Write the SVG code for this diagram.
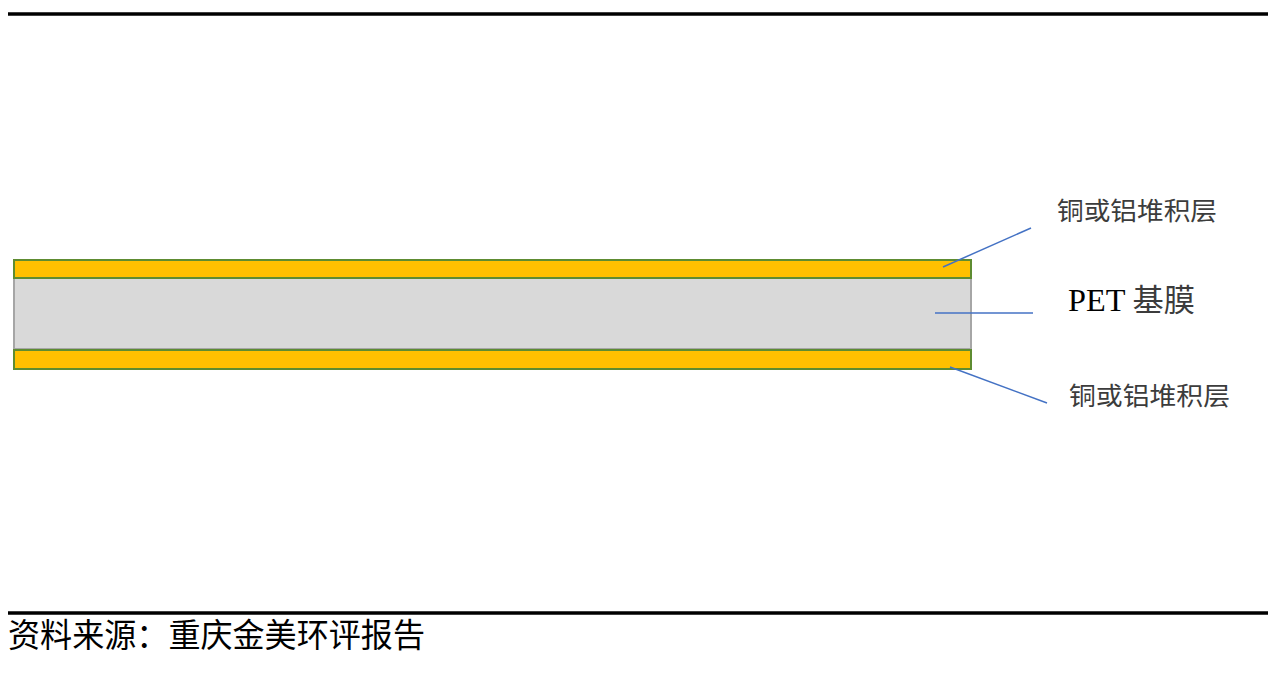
<svg xmlns="http://www.w3.org/2000/svg" width="1284" height="676" viewBox="0 0 1284 676">
<style>
.rule{stroke:#000;stroke-width:3.5}
.cu{fill:#FFC000;stroke:#5E8C31;stroke-width:2}
.pet{fill:#D9D9D9;stroke:#A6A6A6;stroke-width:2}
.lead{stroke:#4472C4;stroke-width:1.5;fill:none}
.lbl{font-family:"Noto Sans CJK SC","Noto Sans",sans-serif;fill:#3c3c3c}
.src{font-family:"Noto Sans CJK SC","Noto Sans",sans-serif;fill:#000}
</style>
<rect width="1284" height="676" fill="#fff"/>
<line class="rule" x1="8" y1="14" x2="1268" y2="14"/>
<line class="rule" x1="8" y1="613" x2="1268" y2="613"/>
<g id="layers">
<g id="pet-film"><rect class="pet" x="14" y="278" width="957" height="71"/></g>
<g id="top-layer"><rect class="cu" x="14" y="260" width="957" height="18"/></g>
<g id="bottom-layer"><rect class="cu" x="14" y="350" width="957" height="19"/></g>
</g>
<g id="connectors">
<line class="lead" x1="943" y1="267" x2="1031" y2="228"/>
<line class="lead" x1="935" y1="313" x2="1033" y2="313"/>
<line class="lead" x1="950" y1="367" x2="1047" y2="403"/>
</g>
<g id="label-top"><text class="lbl" x="1057" y="220" font-size="25" textLength="160" lengthAdjust="spacingAndGlyphs">铜或铝堆积层</text></g>
<g id="label-pet"><text x="1068" y="311" font-size="32" textLength="127" lengthAdjust="spacingAndGlyphs"><tspan font-family="Liberation Serif,serif" fill="#000">PET</tspan><tspan class="lbl" font-size="31"> 基膜</tspan></text></g>
<g id="label-bottom"><text class="lbl" x="1069" y="405" font-size="25" textLength="161" lengthAdjust="spacingAndGlyphs">铜或铝堆积层</text></g>
<text class="src" x="8" y="647" font-size="33" textLength="417" lengthAdjust="spacingAndGlyphs">资料来源：重庆金美环评报告</text>
</svg>
